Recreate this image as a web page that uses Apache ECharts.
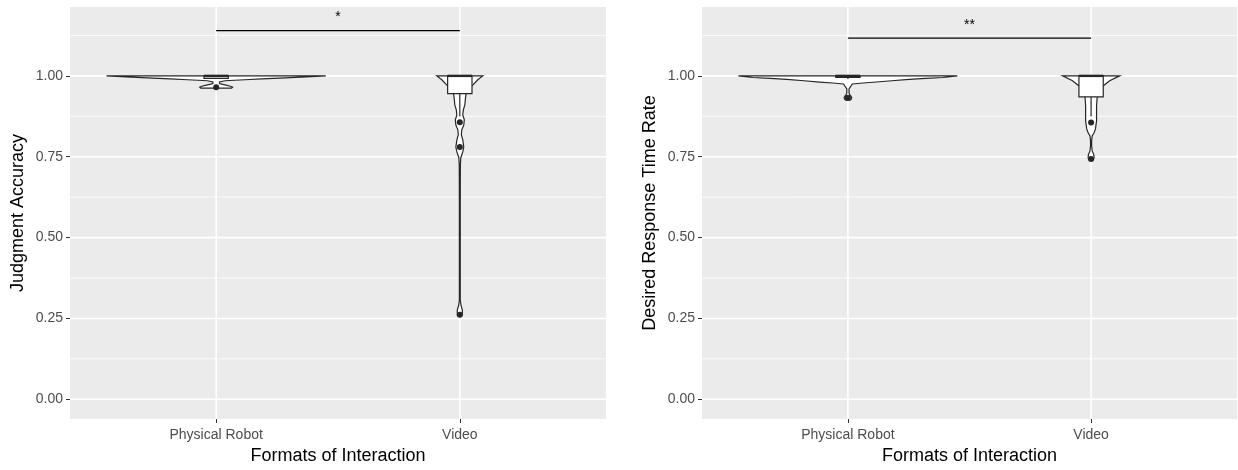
<!DOCTYPE html>
<html>
<head>
<meta charset="utf-8">
<script src="https://cdn.jsdelivr.net/npm/echarts@6/dist/echarts.min.js"></script>
<style>
html,body{margin:0;padding:0;background:#fff;}
#chart{width:1238px;height:470px;}
</style>
</head>
<body>
<div id="chart"></div>
<script>
// ---------- data ----------
const categories = ['Physical Robot', 'Video'];
const catPositions = [1, 2];
const yTicks = [0, 0.25, 0.5, 0.75, 1.0];
const yMinorTicks = [0.125, 0.375, 0.625, 0.875, 1.125];
const yTitles = ['Judgment Accuracy', 'Desired Response Time Rate'];
const xTitle = 'Formats of Interaction';

// violin profiles: value levels and relative half-widths (1 = widest violin)
const jaRobotViolinY = [1.000, 0.997, 0.994, 0.991, 0.988, 0.985, 0.981, 0.976, 0.972, 0.968, 0.965, 0.962];
const jaRobotViolinW = [1.00, 0.82, 0.63, 0.42, 0.26, 0.08, 0.03, 0.03, 0.08, 0.13, 0.15, 0.14];
const jaVideoViolinY = [1.000, 0.988, 0.972, 0.957, 0.941, 0.926, 0.910, 0.895, 0.879, 0.864, 0.848, 0.833, 0.818, 0.802, 0.780, 0.765, 0.747, 0.725, 0.600, 0.450, 0.307, 0.292, 0.276, 0.261];
const jaVideoViolinW = [0.21, 0.164, 0.12, 0.073, 0.055, 0.05, 0.046, 0.032, 0.027, 0.041, 0.036, 0.018, 0.014, 0.027, 0.036, 0.027, 0.009, 0.005, 0.004, 0.004, 0.004, 0.01, 0.023, 0.023];
const drRobotViolinY = [1.000, 0.995, 0.992, 0.989, 0.985, 0.981, 0.978, 0.975, 0.960, 0.947, 0.941, 0.936, 0.932, 0.928, 0.925];
const drRobotViolinW = [1.00, 0.87, 0.71, 0.56, 0.40, 0.26, 0.14, 0.04, 0.01, 0.01, 0.02, 0.03, 0.035, 0.03, 0.02];
const drVideoViolinY = [1.000, 0.985, 0.969, 0.954, 0.932, 0.907, 0.882, 0.861, 0.836, 0.824, 0.814, 0.800, 0.784, 0.768, 0.756, 0.746, 0.740];
const drVideoViolinW = [0.26, 0.17, 0.11, 0.08, 0.055, 0.05, 0.05, 0.05, 0.04, 0.027, 0.01, 0.005, 0.005, 0.01, 0.025, 0.027, 0.02];

// box stats: [lowerWhisker, q1, median, q3, upperWhisker]
const jaRobotBox = [0.990, 0.992, 1.0, 1.0, 1.0];
const jaVideoBox = [0.875, 0.945, 1.0, 1.0, 1.0];
const drRobotBox = [0.990, 0.995, 1.0, 1.0, 1.0];
const drVideoBox = [0.875, 0.935, 1.0, 1.0, 1.0];

// outliers
const jaRobotOutliers = [0.965];
const jaVideoOutliers = [0.857, 0.780, 0.261];
const drRobotOutliers = [0.932];
const drVideoOutliers = [0.856, 0.743];

// significance
const jaSignif = {level: 1.140, label: '*'};
const drSignif = {level: 1.117, label: '**'};

// ---------- chart ----------
const VIOLIN_HALF = 0.45, BOX_HALF = 0.05;
const X_MIN = 0.4, X_MAX = 2.6, Y_MIN = -0.061, Y_MAX = 1.213;
const FONT = 'Liberation Sans, Arial, sans-serif';

const panels = [
  {violins: [[jaRobotViolinY, jaRobotViolinW], [jaVideoViolinY, jaVideoViolinW]],
   boxes: [jaRobotBox, jaVideoBox], outliers: [jaRobotOutliers, jaVideoOutliers], signif: jaSignif},
  {violins: [[drRobotViolinY, drRobotViolinW], [drVideoViolinY, drVideoViolinW]],
   boxes: [drRobotBox, drVideoBox], outliers: [drRobotOutliers, drVideoOutliers], signif: drSignif}
];

const grids = [
  {left: 70, right: 632, top: 7, bottom: 51, show: true, backgroundColor: '#EBEBEB', borderWidth: 0},
  {left: 702, right: 1, top: 7, bottom: 51, show: true, backgroundColor: '#EBEBEB', borderWidth: 0}
];

const xAxes = grids.map((g, i) => ({
  type: 'value', gridIndex: i, min: X_MIN, max: X_MAX,
  name: xTitle, nameLocation: 'middle', nameGap: 28,
  nameTextStyle: {fontSize: 18, color: '#000', fontFamily: FONT},
  axisLine: {show: false, onZero: false}, splitLine: {show: false},
  axisTick: {show: true, length: 4, customValues: catPositions, lineStyle: {color: '#333', width: 1}},
  axisLabel: {customValues: catPositions, margin: 9, fontSize: 14, color: '#4D4D4D', fontFamily: FONT,
    formatter: v => categories[Math.round(v) - 1] || ''}
}));

const yAxes = grids.map((g, i) => ({
  type: 'value', gridIndex: i, min: Y_MIN, max: Y_MAX,
  name: yTitles[i], nameLocation: 'middle', nameGap: 43,
  nameTextStyle: {fontSize: 18, color: '#000', fontFamily: FONT},
  axisLine: {show: false, onZero: false}, splitLine: {show: false},
  axisTick: {show: true, length: 4, customValues: yTicks, lineStyle: {color: '#333', width: 1}},
  axisLabel: {customValues: yTicks, margin: 7, fontSize: 14, color: '#4D4D4D', fontFamily: FONT,
    formatter: v => v.toFixed(2)}
}));

const series = [];
panels.forEach((p, gi) => {
  // gridlines: [kind, value] kind 0 = major horizontal, 1 = minor horizontal, 2 = vertical major
  const gridData = [];
  yMinorTicks.forEach(v => gridData.push([1, v]));
  yTicks.forEach(v => gridData.push([0, v]));
  catPositions.forEach(v => gridData.push([2, v]));
  series.push({
    type: 'custom', xAxisIndex: gi, yAxisIndex: gi, silent: true, z: 1,
    data: gridData,
    encode: {x: 0, y: 1},
    renderItem: (params, api) => {
      const kind = api.value(0), v = api.value(1);
      let a, b;
      if (kind === 2) { a = api.coord([v, Y_MIN]); b = api.coord([v, Y_MAX]); }
      else { a = api.coord([X_MIN, v]); b = api.coord([X_MAX, v]); }
      return {type: 'line', shape: {x1: a[0], y1: a[1], x2: b[0], y2: b[1]},
        style: {stroke: '#FFFFFF', lineWidth: kind === 1 ? 0.8 : 1.6}};
    }
  });
  // violins
  series.push({
    type: 'custom', xAxisIndex: gi, yAxisIndex: gi, silent: true, z: 2,
    data: catPositions.map((x, ci) => [x, ci]),
    encode: {x: 0, y: 1},
    renderItem: (params, api) => {
      const x = api.value(0), ci = api.value(1);
      const [ys, ws] = p.violins[ci];
      const pts = [];
      for (let k = 0; k < ys.length; k++) pts.push(api.coord([x + ws[k] * VIOLIN_HALF, ys[k]]));
      for (let k = ys.length - 1; k >= 0; k--) pts.push(api.coord([x - ws[k] * VIOLIN_HALF, ys[k]]));
      return {type: 'polygon', shape: {points: pts}, style: {fill: '#FFFFFF', stroke: '#262626', lineWidth: 1.2}};
    }
  });
  // boxes
  series.push({
    type: 'custom', xAxisIndex: gi, yAxisIndex: gi, silent: true, z: 3,
    data: catPositions.map((x, ci) => [x, ci]),
    encode: {x: 0, y: 1},
    renderItem: (params, api) => {
      const x = api.value(0), ci = api.value(1);
      const [lw, q1, med, q3, uw] = p.boxes[ci];
      const tl = api.coord([x - BOX_HALF, q3]), br = api.coord([x + BOX_HALF, q1]);
      const wl1 = api.coord([x, q1]), wl2 = api.coord([x, lw]);
      const wu1 = api.coord([x, q3]), wu2 = api.coord([x, uw]);
      const m1 = api.coord([x - BOX_HALF, med]), m2 = api.coord([x + BOX_HALF, med]);
      const st = {stroke: '#262626', lineWidth: 1.2};
      return {type: 'group', children: [
        {type: 'line', shape: {x1: wl1[0], y1: wl1[1], x2: wl2[0], y2: wl2[1]}, style: st},
        {type: 'line', shape: {x1: wu1[0], y1: wu1[1], x2: wu2[0], y2: wu2[1]}, style: st},
        {type: 'rect', shape: {x: tl[0], y: tl[1], width: br[0] - tl[0], height: Math.max(br[1] - tl[1], 0.5)},
          style: {fill: '#FFFFFF', stroke: '#262626', lineWidth: 1.2}},
        {type: 'line', shape: {x1: m1[0], y1: m1[1], x2: m2[0], y2: m2[1]}, style: {stroke: '#262626', lineWidth: 2.4}}
      ]};
    }
  });
  // outliers
  const pts = [];
  p.outliers.forEach((arr, ci) => arr.forEach(v => pts.push([catPositions[ci], v])));
  series.push({
    type: 'scatter', xAxisIndex: gi, yAxisIndex: gi, silent: true, z: 4,
    symbol: 'circle', symbolSize: 6, itemStyle: {color: '#262626', opacity: 1},
    data: pts
  });
  // significance bracket
  series.push({
    type: 'custom', xAxisIndex: gi, yAxisIndex: gi, silent: true, z: 5,
    data: [[catPositions[0], p.signif.level, catPositions[1]]],
    encode: {x: 0, y: 1},
    renderItem: (params, api) => {
      const a = api.coord([api.value(0), api.value(1)]);
      const b = api.coord([api.value(2), api.value(1)]);
      return {type: 'group', children: [
        {type: 'line', shape: {x1: a[0], y1: a[1], x2: b[0], y2: b[1]}, style: {stroke: '#000', lineWidth: 1.2}},
        {type: 'text', x: (a[0] + b[0]) / 2, y: a[1] - 6,
          style: {text: p.signif.label, fill: '#000', font: '14px ' + FONT, align: 'center', verticalAlign: 'bottom'}}
      ]};
    }
  });
});

const chart = echarts.init(document.getElementById('chart'), null, {renderer: 'canvas'});
chart.setOption({
  animation: false,
  backgroundColor: '#FFFFFF',
  grid: grids, xAxis: xAxes, yAxis: yAxes, series: series
});
</script>
</body>
</html>
